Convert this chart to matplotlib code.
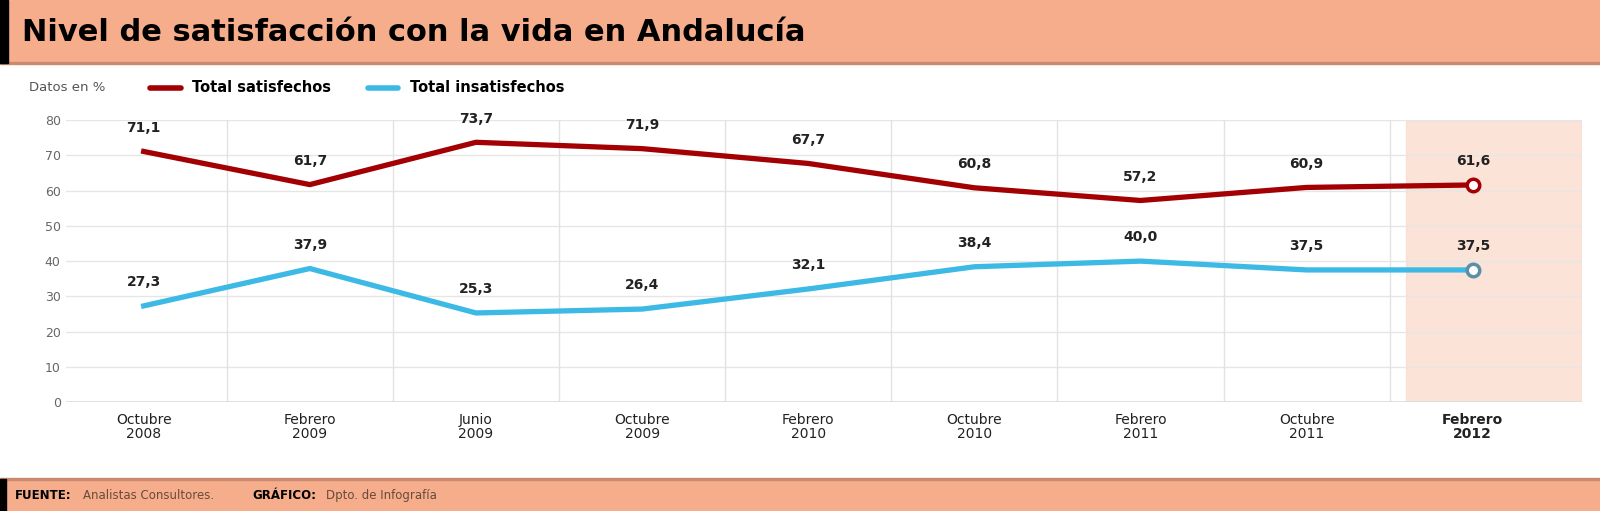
import matplotlib.pyplot as plt
from matplotlib.lines import Line2D
from matplotlib.patches import Rectangle

# Data
periods = ["Octubre\n2008", "Febrero\n2009", "Junio\n2009", "Octubre\n2009", "Febrero\n2010",
           "Octubre\n2010", "Febrero\n2011", "Octubre\n2011", "Febrero\n2012"]
satisfechos = [71.1, 61.7, 73.7, 71.9, 67.7, 60.8, 57.2, 60.9, 61.6]
insatisfechos = [27.3, 37.9, 25.3, 26.4, 32.1, 38.4, 40.0, 37.5, 37.5]
yticks = [0, 10, 20, 30, 40, 50, 60, 70, 80]

red = "#A30004"
blue = "#3DB9E6"
band = "#F5AD8C"
x = list(range(len(periods)))

fig = plt.figure(figsize=(16, 5.11), dpi=100)

# Title band
fig.patches.append(Rectangle((0, 0.877), 1, 0.123, transform=fig.transFigure, color=band, zorder=0))
fig.patches.append(Rectangle((0, 0.874), 1, 0.004, transform=fig.transFigure, color="#C98A70", zorder=1))
fig.patches.append(Rectangle((0, 0.877), 0.005, 0.123, transform=fig.transFigure, color="black", zorder=1))
fig.text(0.014, 0.936, "Nivel de satisfacción con la vida en Andalucía", fontsize=22,
         fontweight="heavy", va="center", ha="left")

# Footer band
fig.patches.append(Rectangle((0, 0), 1, 0.062, transform=fig.transFigure, color=band, zorder=0))
fig.patches.append(Rectangle((0, 0.06), 1, 0.004, transform=fig.transFigure, color="#C98A70", zorder=1))
fig.patches.append(Rectangle((0, 0), 0.004, 0.062, transform=fig.transFigure, color="black", zorder=1))
fig.text(0.009, 0.03, "FUENTE:", fontsize=8.5, fontweight="bold", va="center")
fig.text(0.052, 0.03, "Analistas Consultores.", fontsize=8.5, color="#6A4A3A", va="center")
fig.text(0.158, 0.03, "GRÁFICO:", fontsize=8.5, fontweight="bold", va="center")
fig.text(0.204, 0.03, "Dpto. de Infografía", fontsize=8.5, color="#6A4A3A", va="center")

# Legend row
ly = 0.828
fig.text(0.018, ly, "Datos en %", fontsize=9.5, color="#555555", va="center")
fig.lines.append(Line2D([0.094, 0.113], [ly, ly], transform=fig.transFigure, color=red, lw=4,
                        solid_capstyle="round"))
fig.text(0.12, ly, "Total satisfechos", fontsize=10.5, fontweight="bold", va="center")
fig.lines.append(Line2D([0.23, 0.249], [ly, ly], transform=fig.transFigure, color=blue, lw=4,
                        solid_capstyle="round"))
fig.text(0.256, ly, "Total insatisfechos", fontsize=10.5, fontweight="bold", va="center")

ax = fig.add_axes([0.041, 0.213, 0.948, 0.552])
ax.set_xlim(-0.47, 8.66)
ax.set_ylim(0, 80)
ax.axvspan(7.6, 8.66, color="#FBDCCD", alpha=0.8, zorder=0)
for b in [i + 0.5 for i in range(8)]:
    ax.axvline(b, color="#E2E2E2", lw=1, zorder=1)
ax.set_yticks(yticks)
ax.grid(True, axis="y", color="#E6E6E6", lw=1)
ax.set_axisbelow(True)
for s in ax.spines.values():
    s.set_visible(False)
ax.axhline(0, color="#DDDDDD", lw=2, zorder=1)
ax.tick_params(length=0, labelsize=9, labelcolor="#666666")
ax.tick_params(axis="x", labelsize=10, labelcolor="#222222", pad=8)
ax.set_xticks(x)
ax.set_xticklabels(periods, linespacing=0.95)
ax.get_xticklabels()[-1].set_fontweight("bold")

ax.plot(x, satisfechos, color=red, lw=3.8, solid_joinstyle="round", zorder=3)
ax.plot(x, insatisfechos, color=blue, lw=3.8, solid_joinstyle="round", zorder=3)
ax.plot(x[-1], satisfechos[-1], "o", ms=9, mfc="white", mec=red, mew=2.5, zorder=4)
ax.plot(x[-1], insatisfechos[-1], "o", ms=9, mfc="white", mec="#5A8FA6", mew=2.5, zorder=4)

for xi, v in zip(x, satisfechos):
    ax.annotate(f"{v:.1f}".replace(".", ","), (xi, v), xytext=(0, 12), textcoords="offset points",
                ha="center", va="bottom", fontsize=10, fontweight="bold", color="#222222")
for xi, v in zip(x, insatisfechos):
    ax.annotate(f"{v:.1f}".replace(".", ","), (xi, v), xytext=(0, 12), textcoords="offset points",
                ha="center", va="bottom", fontsize=10, fontweight="bold", color="#222222")

fig.savefig("out.png", dpi=100)
